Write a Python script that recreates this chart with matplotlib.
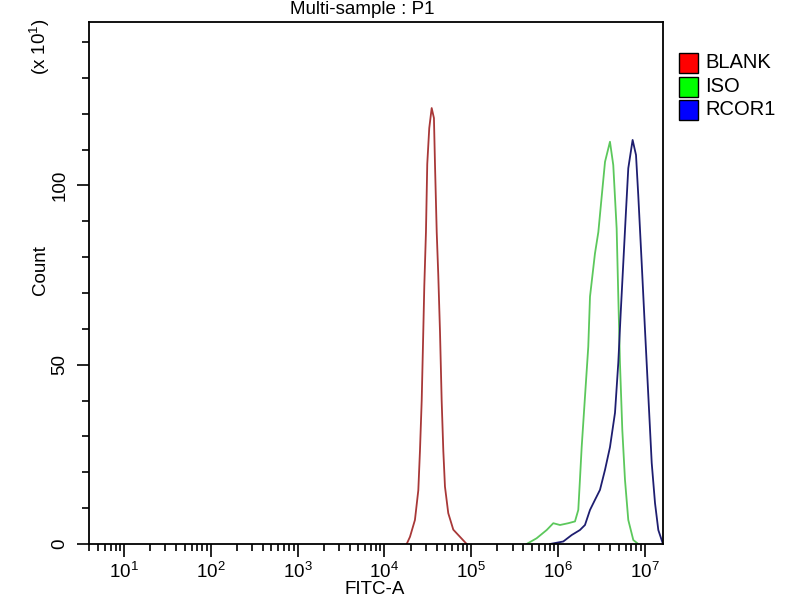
import numpy as np
import matplotlib
matplotlib.use("Agg")
import matplotlib.pyplot as plt
from matplotlib.ticker import FixedLocator, NullFormatter, LogFormatterSciNotation
from matplotlib.patches import Rectangle

plt.rcParams['font.family'] = ['Liberation Sans', 'DejaVu Sans']
plt.rcParams['mathtext.fontset'] = 'custom'
plt.rcParams['mathtext.rm'] = 'Liberation Sans'
plt.rcParams['mathtext.it'] = 'Liberation Sans'

# ---- data (log10 FITC-A, count in units of x10) ----
blank_log = [4.257, 4.295, 4.352, 4.391, 4.410, 4.430, 4.448, 4.460, 4.479, 4.494, 4.517,
             4.545, 4.571, 4.583, 4.603, 4.621, 4.641, 4.660, 4.679, 4.698, 4.736, 4.794,
             4.871, 4.948]
blank_cnt = [0, 2, 6.7, 15, 26, 40, 59, 72, 87, 106, 116,
             121.6, 118.8, 106, 87, 75, 59, 40, 26, 16, 8.6, 4,
             2, 0]

iso_log = [5.639, 5.754, 5.870, 5.946, 6.023, 6.119, 6.196, 6.234, 6.253, 6.273, 6.311,
           6.349, 6.369, 6.426, 6.465, 6.504, 6.542, 6.599, 6.637, 6.676, 6.695, 6.714,
           6.741, 6.772, 6.810, 6.868, 6.925]
iso_cnt = [0, 1.6, 3.9, 5.8, 5.3, 5.8, 6.3, 9.5, 17.9, 27, 41,
           55, 69, 81, 87, 97, 106.6, 112.2, 105.7, 88, 69, 50.6,
           31.9, 17.9, 6.7, 1.1, 0]

rcor1_log = [5.908, 6.061, 6.158, 6.253, 6.311, 6.369, 6.426, 6.484, 6.542, 6.599, 6.657,
             6.695, 6.723, 6.753, 6.783, 6.810, 6.860, 6.899, 6.925, 6.964, 7.002, 7.041,
             7.080, 7.118, 7.156, 7.207]
rcor1_cnt = [0, 0.7, 2.5, 3.9, 5.3, 9.5, 12.3, 15.1, 20.7, 27, 36.6,
             50.6, 64.6, 78.6, 92.6, 104.8, 112.7, 108.5, 97.3, 78.6, 60, 41.3,
             22.6, 11.4, 3.9, 0.2]

series_names = ["BLANK", "ISO", "RCOR1"]
line_colors = ["#a83838", "#5cc85c", "#1e1e70"]
legend_colors = ["#ff0000", "#00ff00", "#0000ff"]
x_decades = [1, 2, 3, 4, 5, 6, 7]
y_major = [0, 50, 100]

fig = plt.figure(figsize=(8, 6), dpi=100)
ax = fig.add_axes([89/800, 1-544/600, (663-89)/800, (544-22)/600])

for lg, cn, c in zip([blank_log, iso_log, rcor1_log],
                     [blank_cnt, iso_cnt, rcor1_cnt], line_colors):
    ax.plot(10**np.array(lg), cn, color=c, lw=1.3)

ax.set_xscale('log')
ax.set_xlim(10**0.597, 10**7.21)
ax.set_ylim(0, 145.6)

majors = [10.0**d for d in x_decades]
minors = [m * 10.0**d for d in range(0, 8) for m in range(2, 10)
          if 10**0.597 <= m * 10.0**d <= 10**7.21]
ax.xaxis.set_major_locator(FixedLocator(majors))
ax.xaxis.set_major_formatter(LogFormatterSciNotation())
ax.xaxis.set_minor_locator(FixedLocator(minors))
ax.xaxis.set_minor_formatter(NullFormatter())
ax.yaxis.set_major_locator(FixedLocator(y_major))
ax.yaxis.set_minor_locator(FixedLocator(np.arange(0, 146, 10)))

ax.tick_params(which='major', direction='out', length=9, width=1.2, labelsize=13.5, color='black')
ax.tick_params(which='minor', direction='out', length=5, width=1.2, color='black')
for lbl in ax.get_yticklabels():
    lbl.set_rotation(90)
    lbl.set_va('center')
ax.tick_params(axis='y', pad=6)
ax.tick_params(axis='x', pad=4)

for s in ax.spines.values():
    s.set_linewidth(1.3)

fig.text(362/800, 1-10/600, "Multi-sample : P1", ha='center', va='center', fontsize=13.5)
fig.text(375/800, 1-590/600, "FITC-A", ha='center', va='center', fontsize=13.5)
fig.text(40/800, 1-270/600, "Count", ha='center', va='center', rotation=90, fontsize=13.5)
fig.text(40/800, 1-47/600, r"(x 10$^{1}$)", ha='center', va='center', rotation=90, fontsize=13.5)

# legend
for i, (name, c) in enumerate(zip(series_names, legend_colors)):
    y0 = 1 - (73 + i*23.5)/600
    fig.patches.append(Rectangle((679/800, y0), 19/800, 20/600, transform=fig.transFigure,
                                 facecolor=c, edgecolor='black', lw=1.0))
    fig.text(705/800, y0 + 10/600, name, ha='left', va='center', fontsize=14.5)

fig.savefig("out.png", dpi=100)
